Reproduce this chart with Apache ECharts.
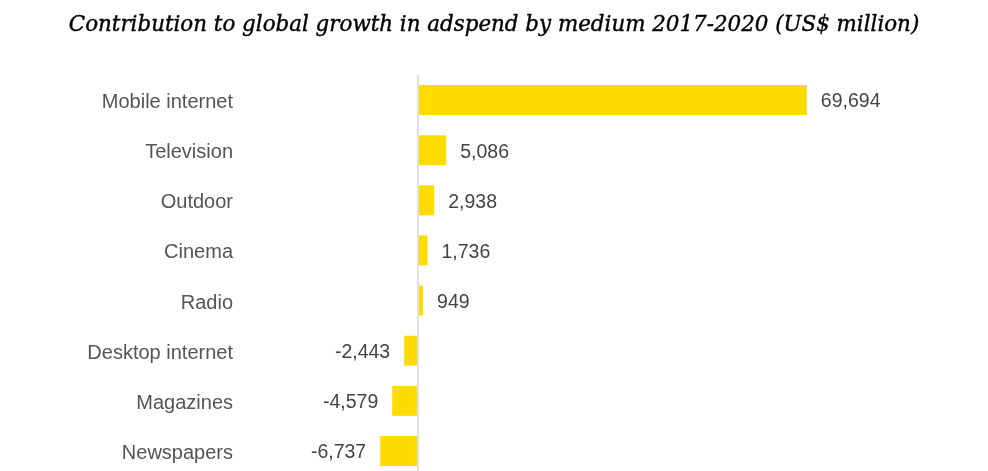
<!DOCTYPE html>
<html>
<head>
<meta charset="utf-8">
<script src="https://cdn.jsdelivr.net/npm/echarts@6/dist/echarts.min.js"></script>
<style>html,body{margin:0;padding:0;background:#fff}#c{width:988px;height:471px}</style>
</head>
<body>
<div id="c"></div>
<script>
const titleText = 'Contribution to global growth in adspend by medium 2017-2020 (US$ million)';
const categories = ['Mobile internet','Television','Outdoor','Cinema','Radio','Desktop internet','Magazines','Newspapers'];
const values = [69694, 5086, 2938, 1736, 949, -2443, -4579, -6737];

function fmt(v){
  const s = Math.abs(v).toString().replace(/\B(?=(\d{3})+(?!\d))/g, ',');
  return (v < 0 ? '-' : '') + s;
}

const chart = echarts.init(document.getElementById('c'));
const gridLeft = 362;
chart.setOption({
  animation: false,
  title: {
    text: titleText,
    left: 'center',
    top: 10,
    textStyle: {fontFamily: 'DejaVu Serif', fontStyle: 'italic', fontWeight: 'normal', fontSize: 21.4, color: '#000',
      textBorderColor: '#000', textBorderWidth: 0.4}
  },
  grid: {left: gridLeft, right: 12, top: 75, height: 401, containLabel: false, outerBoundsMode: 'none'},
  xAxis: {
    type: 'value', min: -10000, max: 100000, show: false
  },
  yAxis: {
    type: 'category', data: categories, inverse: true,
    axisLine: {show: false}, axisTick: {show: false},
    axisLabel: {margin: gridLeft - 233, fontFamily: 'Liberation Sans', fontSize: 20, color: '#555',
      formatter: v => '{a|' + v + '}',
      rich: {a: {fontFamily: 'Liberation Sans', fontSize: 20, color: '#555', padding: [5, 0, 0, 0]}}}
  },
  series: [{
    type: 'bar',
    data: values.map(v => ({value: v, label: {position: v < 0 ? 'left' : 'right'}})),
    barWidth: 30,
    itemStyle: {color: '#FFDC00'},
    label: {show: true, distance: 14, offset: [0, 2], fontFamily: 'Liberation Sans', fontSize: 19.5, color: '#444',
      formatter: p => fmt(p.value)},
    markLine: {
      silent: true, symbol: ['none','none'], label: {show: false},
      lineStyle: {color: '#e0e0e0', width: 2, type: 'solid'},
      data: [{xAxis: 0}]
    },
    z: 3
  }]
});
</script>
</body>
</html>
